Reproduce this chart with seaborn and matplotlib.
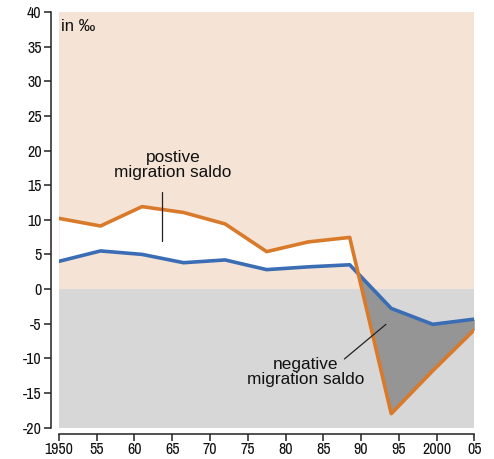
import numpy as np
import pandas as pd
import matplotlib.pyplot as plt
import seaborn as sns

# migration saldo, in per mille
years = [1950, 1955.5, 1961, 1966.5, 1972, 1977.5, 1983, 1988.5, 1994, 1999.5, 2005]
orange_vals = [10.2, 9.1, 11.9, 11.05, 9.4, 5.4, 6.8, 7.45, -18.0, -11.8, -5.9]
blue_vals = [4.0, 5.5, 5.0, 3.8, 4.2, 2.8, 3.2, 3.5, -2.8, -5.1, -4.35]

xtick_pos = list(range(1950, 2006, 5))
xtick_labels = ['1950', '55', '60', '65', '70', '75', '80', '85', '90', '95', '2000', '05']
ytick_pos = list(range(-20, 41, 5))

df = pd.DataFrame({'year': years, 'orange': orange_vals, 'blue': blue_vals})

sns.set_style('ticks')
plt.rcParams['font.family'] = ['Liberation Sans', 'DejaVu Sans']

fig = plt.figure(figsize=(4.94, 4.59), dpi=100)
ax = fig.add_axes([0.1194, 0.0686, 0.8407, 0.9052])
ax.set_facecolor('none')

# background bands
ax.axhspan(0, 40, color='#f5e3d5', lw=0, zorder=0)
ax.axhspan(-20, 0, color='#d7d7d7', lw=0, zorder=0)

x = np.array(years)
o = np.array(orange_vals)
b = np.array(blue_vals)
ax.fill_between(x, o, b, where=o >= b, interpolate=True, color='white', lw=0, zorder=1)
ax.fill_between(x, o, b, where=o <= b, interpolate=True, color='#959595', lw=0, zorder=1)

sns.lineplot(data=df, x='year', y='blue', color='#3b6db4', lw=2.6, ax=ax, zorder=3)
sns.lineplot(data=df, x='year', y='orange', color='#d97a2b', lw=2.6, ax=ax, zorder=4)

ax.set_xlim(1950, 2005)
ax.set_ylim(-20, 40)
ax.set_xlabel('')
ax.set_ylabel('')

ax.set_xticks(xtick_pos, xtick_labels)
ax.set_yticks(ytick_pos, [str(v) for v in ytick_pos])
ax.tick_params(length=5, width=1.1, color='#222222', labelcolor='#111111',
               labelsize=11.5, labelfontfamily='Archivo Narrow')
ax.tick_params(axis='y', pad=1.5)
ax.tick_params(axis='x', pad=0.5)
sns.despine(ax=ax, offset=(6, 5))
for s in ['left', 'bottom']:
    ax.spines[s].set_linewidth(1.1)
    ax.spines[s].set_color('#222222')

# annotations
ax.text(1950.3, 37.9, 'in ‰', fontsize=12, va='center', ha='left', color='#111111')
ax.text(1965.1, 17.9, 'postive\nmigration saldo', fontsize=12.4, ha='center', va='center',
        linespacing=0.95, color='#111111')
ax.plot([1963.7, 1963.7], [14.0, 7.0], color='#222222', lw=0.9, zorder=5)
ax.text(1982.7, -12.0, 'negative\nmigration saldo', fontsize=12.4, ha='center', va='center',
        linespacing=0.95, color='#111111')
ax.plot([1987.8, 1993.3], [-10.1, -5.1], color='#222222', lw=0.9, zorder=5)

fig.savefig('out.png', dpi=100)
